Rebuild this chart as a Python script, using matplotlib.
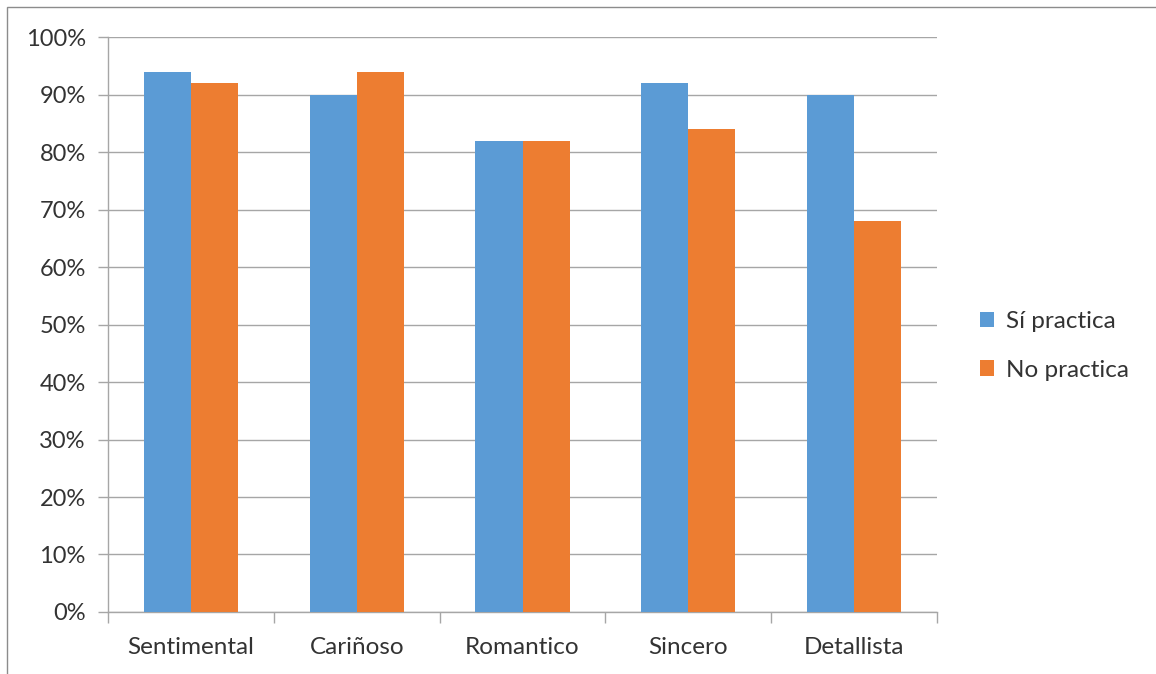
import numpy as np
import matplotlib.pyplot as plt
from matplotlib.patches import Rectangle
from matplotlib.ticker import FixedLocator, PercentFormatter

# Survey results per trait
categories = ["Sentimental", "Cariñoso", "Romantico", "Sincero", "Detallista"]
si_practica = [94, 90, 82, 92, 90]
no_practica = [92, 94, 82, 84, 68]
series_names = ["Sí practica", "No practica"]

plt.rcParams["font.family"] = ["Lato", "DejaVu Sans"]

fig = plt.figure(figsize=(11.56, 6.74), dpi=100)
ax = fig.add_axes([0.0934, 0.092, 0.7172, 0.853])

x = np.arange(len(categories))
width = 0.284
grid_color = "#a6a6a6"
text_color = "#333333"

ax.bar(x - width / 2, si_practica, width, color="#5B9BD5", label=series_names[0], zorder=3)
ax.bar(x + width / 2, no_practica, width, color="#ED7D31", label=series_names[1], zorder=3)

ax.set_xlim(-0.5, len(categories) - 0.5)
ax.set_ylim(0, 100)
ax.set_yticks(np.arange(0, 101, 10))
ax.yaxis.set_major_formatter(PercentFormatter(decimals=0))
ax.yaxis.grid(True, color=grid_color, linewidth=1)

# category labels centred, tick marks on the boundaries between groups
ax.set_xticks(x)
ax.set_xticklabels(categories)
ax.tick_params(axis="x", which="major", length=0, pad=18, labelsize=17.5, labelcolor=text_color)
ax.xaxis.set_minor_locator(FixedLocator(np.arange(-0.5, len(categories), 1)))
ax.tick_params(axis="x", which="minor", length=8, color=grid_color, width=1)
ax.tick_params(axis="y", length=7, color=grid_color, width=1, labelsize=17,
               labelcolor=text_color, pad=9)

for side in ["top", "right"]:
    ax.spines[side].set_visible(False)
for side in ["left", "bottom"]:
    ax.spines[side].set_color(grid_color)
    ax.spines[side].set_linewidth(1)

ax.legend(loc="center left", bbox_to_anchor=(1.025, 0.463), frameon=False,
          fontsize=17.5, handlelength=0.6, handleheight=0.6, handletextpad=0.5,
          labelspacing=1.15, labelcolor=text_color)

# outer chart frame
fig.patches.append(Rectangle((7 / 1156, -0.01), 1.1, 0.9996, transform=fig.transFigure,
                             fill=False, edgecolor="#8c8c8c", linewidth=1))

fig.savefig("out.png", dpi=100)
plt.close(fig)
